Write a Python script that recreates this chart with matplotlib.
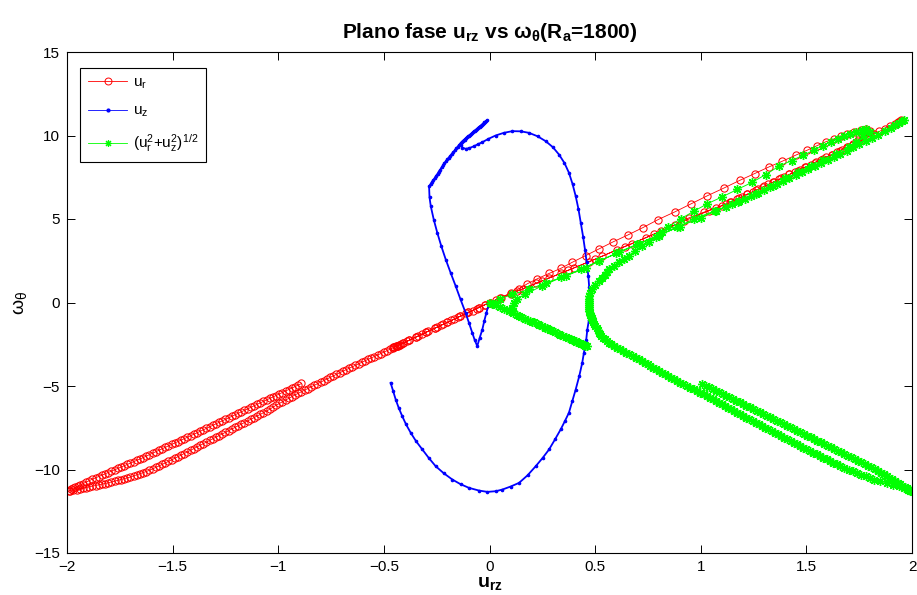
import matplotlib
matplotlib.use("Agg")
import matplotlib.pyplot as plt
from matplotlib.lines import Line2D

plt.rcParams['font.family'] = ['Liberation Sans', 'DejaVu Sans']
plt.rcParams['mathtext.default'] = 'regular'

# ---------------- data (u, omega_theta) ----------------
ur_path = [
    (-0.89,-4.85),(-0.905,-4.94),(-0.92,-5.03),(-0.935,-5.12),(-0.95,-5.21),(-0.965,-5.30),(-0.98,-5.39),
    (-0.995,-5.48),(-1.01,-5.57),(-1.025,-5.655),(-1.04,-5.74),(-1.055,-5.83),(-1.07,-5.92),(-1.085,-6.01),
    (-1.10,-6.10),(-1.115,-6.19),(-1.13,-6.28),(-1.145,-6.37),(-1.16,-6.46),(-1.175,-6.55),(-1.19,-6.64),
    (-1.205,-6.73),(-1.22,-6.82),(-1.235,-6.91),(-1.25,-7.00),(-1.265,-7.09),(-1.28,-7.18),(-1.295,-7.27),
    (-1.31,-7.36),(-1.325,-7.45),(-1.34,-7.54),(-1.355,-7.63),(-1.37,-7.72),(-1.385,-7.805),(-1.40,-7.89),
    (-1.415,-7.98),(-1.43,-8.07),(-1.445,-8.155),(-1.46,-8.24),(-1.475,-8.325),(-1.49,-8.41),(-1.505,-8.50),
    (-1.52,-8.59),(-1.535,-8.675),(-1.55,-8.76),(-1.565,-8.85),(-1.58,-8.94),(-1.595,-9.025),(-1.61,-9.11),
    (-1.625,-9.20),(-1.64,-9.29),(-1.655,-9.37),(-1.67,-9.45),(-1.685,-9.535),(-1.70,-9.62),(-1.715,-9.70),
    (-1.73,-9.78),(-1.745,-9.86),(-1.76,-9.94),(-1.775,-10.02),(-1.79,-10.10),(-1.805,-10.18),(-1.82,-10.26),
    (-1.835,-10.34),(-1.85,-10.42),(-1.865,-10.50),(-1.88,-10.58),(-1.895,-10.67),(-1.91,-10.76),
    (-1.925,-10.845),(-1.94,-10.93),(-1.95,-11.0),(-1.96,-11.06),(-1.97,-11.13),(-1.98,-11.19),(-1.99,-11.28),
    (-1.985,-11.27),(-1.97,-11.24),(-1.955,-11.20),(-1.94,-11.16),(-1.925,-11.12),(-1.91,-11.08),
    (-1.895,-11.04),(-1.88,-11.00),(-1.865,-10.96),(-1.85,-10.92),(-1.835,-10.88),(-1.82,-10.84),
    (-1.805,-10.795),(-1.79,-10.75),(-1.775,-10.70),(-1.76,-10.65),(-1.745,-10.60),(-1.73,-10.55),
    (-1.715,-10.50),(-1.70,-10.45),(-1.685,-10.385),(-1.67,-10.32),(-1.655,-10.255),(-1.64,-10.19),
    (-1.625,-10.12),(-1.61,-10.05),(-1.595,-9.965),(-1.58,-9.88),(-1.565,-9.79),(-1.55,-9.70),(-1.535,-9.61),
    (-1.52,-9.52),(-1.505,-9.425),(-1.49,-9.33),(-1.475,-9.235),(-1.46,-9.14),(-1.445,-9.045),(-1.43,-8.95),
    (-1.415,-8.85),(-1.40,-8.75),(-1.385,-8.65),(-1.37,-8.55),(-1.355,-8.455),(-1.34,-8.36),(-1.325,-8.26),
    (-1.31,-8.16),(-1.295,-8.065),(-1.28,-7.97),(-1.265,-7.87),(-1.25,-7.77),(-1.235,-7.675),(-1.22,-7.58),
    (-1.205,-7.48),(-1.19,-7.38),(-1.175,-7.285),(-1.16,-7.19),(-1.145,-7.09),(-1.13,-6.99),(-1.115,-6.895),
    (-1.10,-6.80),(-1.085,-6.70),(-1.07,-6.60),(-1.055,-6.495),(-1.04,-6.39),(-1.025,-6.27),(-1.01,-6.15),
    (-0.995,-6.045),(-0.98,-5.94),(-0.965,-5.84),(-0.95,-5.74),(-0.935,-5.635),(-0.92,-5.53),(-0.905,-5.435),
    (-0.89,-5.34),(-0.875,-5.245),(-0.86,-5.15),(-0.845,-5.055),(-0.83,-4.96),(-0.815,-4.865),(-0.80,-4.77),
    (-0.785,-4.675),(-0.77,-4.58),(-0.755,-4.49),(-0.74,-4.40),(-0.725,-4.305),(-0.71,-4.21),(-0.695,-4.12),
    (-0.68,-4.03),(-0.665,-3.94),(-0.65,-3.85),(-0.635,-3.76),(-0.62,-3.67),(-0.605,-3.58),(-0.59,-3.49),
    (-0.575,-3.405),(-0.56,-3.32),(-0.545,-3.235),(-0.53,-3.15),(-0.515,-3.06),(-0.50,-2.97),(-0.485,-2.88),
    (-0.47,-2.79),(-0.455,-2.705),(-0.44,-2.62),(-0.425,-2.53),(-0.41,-2.44),(-0.38,-2.26),(-0.35,-2.08),
    (-0.32,-1.90),(-0.29,-1.72),(-0.26,-1.54),(-0.23,-1.37),(-0.20,-1.19),(-0.17,-1.01),(-0.14,-0.83),
    (-0.11,-0.65),(-0.08,-0.48),(-0.05,-0.30),(-0.02,-0.12),
    (0.0,0.0),(0.053,0.28),(0.10,0.58),(0.14,0.82),(0.179,1.12),(0.226,1.42),(0.282,1.74),(0.337,2.04),
    (0.392,2.41),(0.455,2.81),(0.518,3.21),(0.585,3.63),(0.656,4.05),(0.727,4.49),(0.799,4.97),(0.878,5.43),
    (0.955,5.91),(1.031,6.39),(1.109,6.85),(1.184,7.31),(1.255,7.72),(1.323,8.12),(1.386,8.46),(1.449,8.82),
    (1.504,9.12),(1.552,9.40),(1.591,9.62),(1.631,9.80),(1.662,9.96),(1.694,10.10),(1.725,10.22),
    (1.757,10.30),(1.781,10.36),
    (1.80,10.25),(1.80,10.16),(1.77,9.95),(1.745,9.72),(1.72,9.50),(1.694,9.30),(1.66,9.10),(1.62,8.86),
    (1.58,8.62),(1.54,8.38),(1.50,8.14),(1.46,7.90),(1.42,7.67),(1.38,7.43),(1.34,7.19),(1.30,6.95),
    (1.26,6.71),(1.22,6.48),(1.18,6.24),(1.14,6.00),(1.071,5.67),(1.015,5.41),(0.944,5.07),(0.88,4.67),
    (0.81,4.27),(0.739,3.87),(0.676,3.53),(0.605,3.17),(0.534,2.77),(0.47,2.43),(0.40,2.07),(0.34,1.76),
    (0.28,1.45),(0.22,1.14),(0.16,0.83),(0.10,0.52),(0.05,0.25),(0.0,0.0),(-0.05,-0.30),(-0.10,-0.59),
    (-0.15,-0.89),(-0.20,-1.19),(-0.25,-1.49),(-0.30,-1.78),(-0.35,-2.08),(-0.39,-2.32),(-0.42,-2.49),
    (-0.435,-2.58),(-0.443,-2.63),(-0.45,-2.66),(-0.455,-2.69),(-0.452,-2.67),
    (-0.44,-2.60),(-0.43,-2.54),(-0.41,-2.43),(-0.38,-2.26),(-0.34,-2.02),(-0.30,-1.78),(-0.26,-1.54),
    (-0.22,-1.31),(-0.18,-1.07),(-0.14,-0.83),(-0.10,-0.59),(-0.06,-0.36),(-0.02,-0.12),(0.03,0.16),
    (0.13,0.68),(0.25,1.30),(0.37,1.92),(0.50,2.60),(0.64,3.35),(0.78,4.10),(0.92,4.87),(1.04,5.50),
    (1.10,5.78),(1.12,5.88),(1.145,6.03),(1.17,6.18),(1.195,6.33),(1.22,6.48),(1.245,6.63),(1.27,6.77),
    (1.295,6.92),(1.32,7.07),(1.345,7.22),(1.37,7.37),(1.395,7.52),(1.42,7.67),(1.445,7.82),(1.47,7.96),
    (1.495,8.11),(1.52,8.26),(1.545,8.41),(1.57,8.56),(1.595,8.71),(1.62,8.86),(1.645,9.00),(1.67,9.15),
    (1.695,9.30),(1.72,9.46),(1.745,9.62),(1.77,9.77),(1.795,9.93),(1.82,10.09),(1.845,10.24),(1.87,10.40),
    (1.895,10.56),(1.92,10.71),(1.935,10.81),(1.945,10.87),(1.95,10.90),
]

uz_path = [
    (-0.468,-4.81),(-0.456,-5.3),(-0.444,-5.81),(-0.43,-6.3),(-0.413,-6.81),(-0.395,-7.3),(-0.373,-7.8),
    (-0.348,-8.3),(-0.318,-8.80),(-0.288,-9.3),(-0.255,-9.8),(-0.217,-10.22),(-0.176,-10.6),(-0.137,-10.88),
    (-0.097,-11.1),(-0.05,-11.26),(-0.01,-11.34),(0.03,-11.3),(0.061,-11.2),(0.10,-11.02),(0.14,-10.8),
    (0.18,-10.35),(0.219,-9.8),(0.252,-9.3),(0.282,-8.80),(0.31,-8.2),(0.337,-7.6),(0.357,-7.1),(0.376,-6.6),
    (0.392,-5.9),(0.408,-5.21),(0.425,-4.4),(0.439,-3.61),(0.447,-3.0),(0.458,-2.22),(0.463,-1.62),
    (0.471,-1.02),(0.474,-0.4),(0.474,0.18),(0.472,0.9),(0.468,1.57),(0.46,2.4),(0.452,3.17),(0.443,3.95),
    (0.432,4.77),(0.421,5.6),(0.408,6.37),(0.393,7.1),(0.376,7.77),(0.355,8.35),(0.329,8.86),(0.30,9.3),
    (0.266,9.66),(0.228,9.95),(0.187,10.16),(0.148,10.25),(0.108,10.26),(0.068,10.16),(0.029,10.0),
    (-0.005,9.8),(-0.034,9.6),(-0.055,9.48),(-0.073,9.36),(-0.095,9.25),(-0.113,9.2),(-0.128,9.28),
    (-0.136,9.45),
    (-0.127,9.66),(-0.118,9.75),(-0.109,9.85),(-0.100,9.95),(-0.091,10.05),(-0.082,10.14),(-0.073,10.24),
    (-0.064,10.34),(-0.055,10.44),(-0.046,10.53),(-0.037,10.63),(-0.028,10.73),(-0.019,10.82),(-0.010,10.92),
    (-0.015,10.87),(-0.024,10.78),(-0.033,10.68),(-0.042,10.58),(-0.051,10.49),(-0.060,10.39),(-0.069,10.29),
    (-0.078,10.19),(-0.087,10.10),(-0.096,10.00),(-0.105,9.90),(-0.114,9.80),(-0.123,9.71),(-0.132,9.61),
    (-0.136,9.56),(-0.143,9.45),(-0.150,9.34),(-0.157,9.23),(-0.164,9.12),(-0.171,9.01),(-0.179,8.90),
    (-0.186,8.79),(-0.193,8.68),(-0.200,8.57),(-0.207,8.46),(-0.214,8.34),(-0.220,8.21),(-0.227,8.09),
    (-0.233,7.96),(-0.240,7.84),(-0.246,7.71),(-0.253,7.59),(-0.259,7.46),(-0.266,7.34),(-0.273,7.21),
    (-0.279,7.09),(-0.286,6.96),
    (-0.284,6.3),(-0.278,5.77),(-0.264,4.97),(-0.247,4.17),(-0.228,3.37),(-0.207,2.57),(-0.184,1.78),
    (-0.16,0.98),(-0.137,0.18),(-0.113,-0.62),(-0.097,-1.22),(-0.081,-1.82),(-0.07,-2.25),(-0.058,-2.61),
    (-0.046,-2.1),(-0.034,-1.62),(-0.025,-1.12),(-0.015,-0.62),(-0.002,-0.06),
]

mag_path = [
    (1.007,-4.88),(1.023,-4.98),(1.04,-5.08),(1.056,-5.18),(1.072,-5.28),(1.088,-5.38),(1.104,-5.48),
    (1.12,-5.58),(1.136,-5.68),(1.152,-5.78),(1.168,-5.88),(1.184,-5.98),(1.20,-6.08),(1.216,-6.18),
    (1.232,-6.28),(1.248,-6.38),(1.264,-6.48),(1.28,-6.58),(1.296,-6.68),(1.312,-6.78),(1.328,-6.88),
    (1.344,-6.98),(1.36,-7.08),(1.376,-7.18),(1.392,-7.28),(1.408,-7.38),(1.424,-7.48),(1.44,-7.58),
    (1.456,-7.68),(1.472,-7.78),(1.488,-7.88),(1.504,-7.98),(1.52,-8.08),(1.536,-8.18),(1.552,-8.28),
    (1.568,-8.38),(1.584,-8.48),(1.60,-8.58),(1.616,-8.68),(1.632,-8.78),(1.648,-8.88),(1.664,-8.98),
    (1.68,-9.08),(1.696,-9.18),(1.712,-9.28),(1.728,-9.38),(1.744,-9.48),(1.76,-9.58),(1.776,-9.68),
    (1.792,-9.78),(1.808,-9.88),(1.823,-9.98),(1.838,-10.08),(1.852,-10.18),(1.866,-10.28),(1.88,-10.38),
    (1.893,-10.48),(1.907,-10.58),(1.92,-10.68),(1.933,-10.78),(1.945,-10.88),(1.955,-10.97),(1.965,-11.06),
    (1.974,-11.13),(1.982,-11.2),(1.99,-11.26),(1.995,-11.3),
    (1.99,-11.25),(1.985,-11.2),(1.963,-11.1),(1.94,-11.0),(1.91,-10.9),(1.88,-10.8),(1.85,-10.7),
    (1.82,-10.6),(1.80,-10.5),(1.78,-10.4),(1.76,-10.3),(1.74,-10.2),(1.72,-10.1),(1.70,-10.0),(1.68,-9.9),
    (1.66,-9.8),(1.644,-9.7),(1.628,-9.6),(1.612,-9.5),(1.596,-9.4),(1.58,-9.3),(1.564,-9.2),(1.548,-9.1),
    (1.532,-9.0),(1.516,-8.9),(1.50,-8.8),(1.485,-8.7),(1.47,-8.6),(1.455,-8.5),(1.44,-8.4),(1.425,-8.3),
    (1.41,-8.2),(1.395,-8.1),(1.38,-8.0),(1.365,-7.9),(1.35,-7.8),(1.335,-7.7),(1.32,-7.6),(1.305,-7.5),
    (1.29,-7.4),(1.275,-7.3),(1.26,-7.2),(1.245,-7.1),(1.23,-7.0),(1.215,-6.9),(1.20,-6.8),(1.185,-6.7),
    (1.17,-6.6),(1.156,-6.5),(1.142,-6.4),(1.128,-6.3),(1.114,-6.2),(1.10,-6.1),(1.086,-6.0),(1.072,-5.9),
    (1.058,-5.8),(1.044,-5.7),(1.03,-5.6),(1.014,-5.5),(0.998,-5.4),(0.982,-5.3),(0.966,-5.2),(0.95,-5.1),
    (0.934,-5.0),(0.918,-4.9),(0.902,-4.8),(0.888,-4.7),(0.874,-4.6),(0.86,-4.5),(0.846,-4.4),(0.832,-4.3),
    (0.818,-4.2),(0.804,-4.1),(0.79,-4.0),(0.776,-3.9),(0.762,-3.8),(0.748,-3.7),(0.735,-3.6),(0.72,-3.5),
    (0.706,-3.4),(0.692,-3.3),(0.677,-3.2),(0.662,-3.1),(0.648,-3.0),(0.634,-2.9),(0.619,-2.8),(0.604,-2.7),
    (0.59,-2.6),(0.577,-2.5),(0.565,-2.4),(0.555,-2.3),(0.545,-2.2),(0.537,-2.1),(0.53,-2.0),(0.525,-1.9),
    (0.52,-1.8),(0.513,-1.67),(0.507,-1.55),(0.501,-1.42),(0.495,-1.3),(0.49,-1.17),(0.486,-1.05),
    (0.483,-0.95),(0.48,-0.84),(0.477,-0.72),(0.475,-0.6),(0.473,-0.5),(0.472,-0.4),(0.471,-0.28),
    (0.47,-0.15),(0.47,-0.05),(0.47,0.06),
    (0.47,0.2),(0.471,0.38),(0.478,0.58),(0.487,0.78),(0.50,1.03),(0.518,1.28),(0.532,1.47),(0.545,1.65),
    (0.555,1.82),(0.566,1.98),(0.59,2.2),(0.613,2.41),(0.636,2.61),(0.66,2.81),(0.69,3.09),(0.723,3.37),
    (0.755,3.65),(0.787,3.93),(0.817,4.23),(0.847,4.53),(0.905,5.01),(0.968,5.47),(1.031,5.91),(1.102,6.33),
    (1.173,6.77),(1.244,7.2),(1.307,7.66),(1.37,8.16),(1.43,8.5),(1.486,8.82),(1.535,9.12),(1.579,9.40),
    (1.615,9.6),(1.651,9.8),(1.68,9.96),(1.706,10.1),(1.735,10.2),(1.762,10.3),(1.784,10.36),
    (1.80,10.2),(1.77,9.95),(1.735,9.6),(1.70,9.3),(1.64,8.92),(1.58,8.55),(1.52,8.18),(1.46,7.8),
    (1.40,7.43),(1.341,7.0),(1.26,6.5),(1.174,6.0),(1.069,5.5),(0.966,5.0),(0.887,4.5),(0.80,4.0),
    (0.708,3.5),(0.615,3.0),(0.52,2.5),(0.434,2.0),(0.34,1.5),(0.25,1.0),(0.17,0.5),(0.13,0.2),(0.115,0.0),
    (0.108,-0.3),(0.11,-0.52),(0.14,-0.8),(0.17,-0.98),(0.20,-1.15),(0.232,-1.33),(0.264,-1.5),(0.287,-1.64),
    (0.31,-1.78),(0.335,-1.93),(0.36,-2.07),(0.385,-2.21),(0.41,-2.35),(0.432,-2.48),(0.454,-2.6),
    (0.463,-2.63),
    (0.45,-2.56),(0.43,-2.45),(0.41,-2.33),(0.39,-2.22),(0.37,-2.10),(0.35,-1.99),(0.33,-1.87),(0.31,-1.76),
    (0.29,-1.65),(0.27,-1.53),(0.25,-1.42),(0.23,-1.31),(0.21,-1.19),(0.19,-1.08),(0.17,-0.97),(0.15,-0.85),
    (0.13,-0.74),(0.11,-0.62),(0.09,-0.51),(0.07,-0.40),(0.05,-0.28),(0.03,-0.17),(0.01,-0.06),(0.0,0.0),
    (0.05,0.22),(0.108,0.48),(0.187,0.78),(0.266,1.18),(0.361,1.58),(0.455,2.08),(0.518,2.47),(0.60,2.95),
    (0.70,3.5),(0.80,4.02),(0.90,4.55),(1.00,5.08),(1.07,5.45),(1.12,5.72),(1.15,5.88),(1.18,6.05),
    (1.21,6.22),(1.24,6.40),(1.27,6.58),(1.30,6.76),(1.33,6.94),(1.36,7.12),(1.39,7.30),(1.42,7.48),
    (1.45,7.66),(1.48,7.84),(1.51,8.02),(1.54,8.20),(1.57,8.38),(1.60,8.56),(1.63,8.74),(1.66,8.92),
    (1.69,9.10),(1.72,9.29),(1.75,9.48),(1.78,9.67),(1.81,9.86),(1.84,10.05),(1.87,10.25),(1.90,10.45),
    (1.92,10.6),(1.94,10.76),(1.955,10.88),(1.96,10.95),
]

x_ticks = [-2, -1.5, -1, -0.5, 0, 0.5, 1, 1.5, 2]
x_tick_labels = ['\u22122', '\u22121.5', '\u22121', '\u22120.5', '0', '0.5', '1', '1.5', '2']
y_ticks = [-15, -10, -5, 0, 5, 10, 15]
y_tick_labels = ['\u221215', '\u221210', '\u22125', '0', '5', '10', '15']
legend_labels = [r'u$_r$', r'u$_z$', r'(u$_r^2$+u$_z^2$)$^{1/2}$']

# ---------------- figure ----------------
fig = plt.figure(figsize=(9.17, 5.95), dpi=100)
ax = fig.add_axes([67/917, 42/595, 845/917, 501/595])

urx, urw = zip(*ur_path)
uzx, uzw = zip(*uz_path)
mgx, mgw = zip(*mag_path)

ax.plot(urx, urw, color='#ff0000', lw=0.6, marker='o', ms=5.2, mfc='none', mec='#ff0000', mew=0.75)
ax.plot(uzx, uzw, color='#0000ff', lw=1.3, marker='.', ms=3.2, mec='#0000ff', mfc='#0000ff')
ax.plot(mgx, mgw, color='#00ff00', lw=0.7, marker=(8, 2, 0), ms=6.5, mec='#00ff00', mew=1.0)

ax.set_xlim(-2, 2)
ax.set_ylim(-15, 15)
ax.set_xticks(x_ticks)
ax.set_xticklabels(x_tick_labels)
ax.set_yticks(y_ticks)
ax.set_yticklabels(y_tick_labels)
ax.tick_params(direction='in', top=True, right=True, length=6, width=0.7, labelsize=11, pad=5)
for s in ax.spines.values():
    s.set_linewidth(0.8)

ax.set_title(r'Plano fase u$_{rz}$ vs $\omega_\theta$(R$_a$=1800)', fontsize=15, fontweight='bold', pad=10)
ax.set_xlabel(r'u$_{rz}$', fontsize=14, fontweight='bold', labelpad=1)
ax.set_ylabel(r'$\omega_\theta$', fontsize=14, labelpad=4)

handles = [
    Line2D([], [], color='#ff0000', lw=0.6, marker='o', ms=5, mfc='none', mec='#ff0000', mew=0.7),
    Line2D([], [], color='#0000ff', lw=0.6, marker='.', ms=4),
    Line2D([], [], color='#00ff00', lw=0.6, marker=(8, 2, 0), ms=5, mew=0.8),
]
leg = ax.legend(handles, legend_labels, loc='upper left', bbox_to_anchor=(0.0154, 0.968),
                borderaxespad=0, fontsize=11, handlelength=2.6, handletextpad=0.4,
                labelspacing=0.85, borderpad=0.5, fancybox=False, framealpha=1, edgecolor='black')
leg.get_frame().set_linewidth(0.8)

fig.savefig('out.png', dpi=100)
